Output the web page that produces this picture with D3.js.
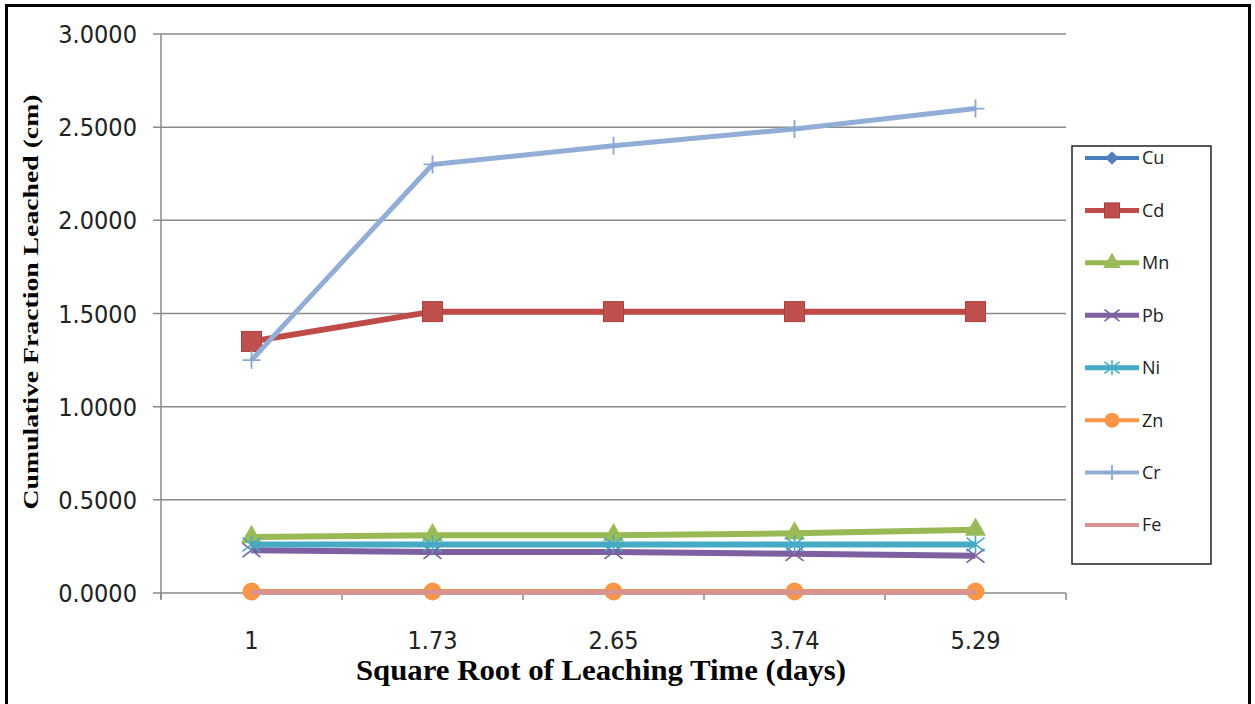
<!DOCTYPE html>
<html lang="en">
<head>
<meta charset="utf-8">
<title>Cumulative Fraction Leached</title>
<script src="https://d3js.org/d3.v7.min.js"></script>
<style>
  body { margin: 0; background: #fff; }
  .tick-label { font-family: "Liberation Sans Narrow", "DejaVu Sans Condensed", sans-serif; font-size: 25px; fill: #222; }
  .axis-title { font-family: "Liberation Serif", "DejaVu Serif", serif; font-weight: bold; fill: #000; }
  .legend-label { font-family: "Open Sans", "Liberation Sans", sans-serif; font-size: 18px; fill: #222; }
</style>
</head>
<body>
<script>
// data
var categories = ["1", "1.73", "2.65", "3.74", "5.29"];
var seriesNames = ["Cu", "Cd", "Mn", "Pb", "Ni", "Zn", "Cr", "Fe"];
var Cu = [0.005, 0.005, 0.005, 0.005, 0.005];
var Cd = [1.35, 1.51, 1.51, 1.51, 1.51];
var Mn = [0.30, 0.31, 0.31, 0.32, 0.34];
var Pb = [0.23, 0.22, 0.22, 0.21, 0.20];
var Ni = [0.26, 0.26, 0.26, 0.26, 0.26];
var Zn = [0.008, 0.008, 0.008, 0.008, 0.008];
var Cr = [1.25, 2.30, 2.40, 2.49, 2.60];
var Fe = [0.004, 0.004, 0.004, 0.004, 0.004];
var yTicks = [0, 0.5, 1, 1.5, 2, 2.5, 3];

var values = { Cu: Cu, Cd: Cd, Mn: Mn, Pb: Pb, Ni: Ni, Zn: Zn, Cr: Cr, Fe: Fe };
var colors = { Cu: "#4A7EBB", Cd: "#BE4B48", Mn: "#98B954", Pb: "#7D60A0",
               Ni: "#46AAC5", Zn: "#F79646", Cr: "#92ADD6", Fe: "#D9928F" };
var widths = { Cu: 5, Cd: 6, Mn: 6, Pb: 6, Ni: 6, Zn: 5, Cr: 5, Fe: 5 };

var width = 1255, height = 704;
var svg = d3.select("body").append("svg")
    .attr("width", width).attr("height", height);

// outer frame
svg.append("rect")
    .attr("x", 6.5).attr("y", 5.5).attr("width", 1243).attr("height", 720)
    .attr("fill", "none").attr("stroke", "#000").attr("stroke-width", 3);

var plotLeft = 161, plotRight = 1066, plotTop = 34, plotBottom = 593;
var x = d3.scaleBand().domain(categories).range([plotLeft, plotRight]).padding(0);
var y = d3.scaleLinear().domain([0, 3]).range([plotBottom, plotTop]);

// gridlines
svg.append("g").selectAll("line").data(yTicks).enter().append("line")
    .attr("x1", plotLeft - 8).attr("x2", plotRight)
    .attr("y1", function(d) { return y(d); }).attr("y2", function(d) { return y(d); })
    .attr("stroke", "#8a8a8a").attr("stroke-width", 1.5);

// y axis line
svg.append("line").attr("x1", plotLeft).attr("x2", plotLeft).attr("y1", plotTop).attr("y2", plotBottom + 6)
    .attr("stroke", "#8a8a8a").attr("stroke-width", 1.5);

// y tick labels
svg.append("g").selectAll("text").data(yTicks).enter().append("text")
    .attr("class", "tick-label")
    .attr("x", 137).attr("y", function(d) { return y(d); })
    .attr("dy", "0.36em").attr("text-anchor", "end")
    .text(function(d) { return d3.format(".4f")(d); });

// x ticks at band edges
var edges = categories.map(function(c) { return x(c); }).concat([plotRight]);
svg.append("g").selectAll("line").data(edges).enter().append("line")
    .attr("x1", function(d) { return d; }).attr("x2", function(d) { return d; })
    .attr("y1", plotBottom).attr("y2", plotBottom + 7)
    .attr("stroke", "#8a8a8a").attr("stroke-width", 1.5);

svg.append("g").selectAll("text").data(categories).enter().append("text")
    .attr("class", "tick-label")
    .attr("x", function(d) { return x(d) + x.bandwidth() / 2; })
    .attr("y", 649).attr("text-anchor", "middle")
    .text(function(d) { return d; });

// axis titles
svg.append("text").attr("class", "axis-title")
    .attr("x", 601).attr("y", 680).attr("text-anchor", "middle")
    .attr("font-size", 30)
    .attr("textLength", 490).attr("lengthAdjust", "spacingAndGlyphs")
    .text("Square Root of Leaching Time (days)");

svg.append("text").attr("class", "axis-title")
    .attr("transform", "translate(38,302) rotate(-90)")
    .attr("text-anchor", "middle").attr("font-size", 22)
    .attr("textLength", 415).attr("lengthAdjust", "spacingAndGlyphs")
    .text("Cumulative Fraction Leached (cm)");

// markers
function drawMarker(g, name, size) {
  var c = colors[name], s = size;
  if (name === "Cu") {
    var h = s * 0.45;
    g.append("path").attr("d", "M0," + (-h) + "L" + h + ",0L0," + h + "L" + (-h) + ",0Z").attr("fill", "#4F81BD");
  } else if (name === "Cd") {
    g.append("rect").attr("x", -s / 2).attr("y", -s / 2).attr("width", s).attr("height", s)
      .attr("fill", "#C0504D").attr("stroke", "#A8403D").attr("stroke-width", 1);
  } else if (name === "Mn") {
    g.append("path").attr("d", d3.symbol(d3.symbolTriangle, s * s * 0.6)()).attr("fill", "#9BBB59");
  } else if (name === "Pb") {
    g.append("path").attr("d", "M" + (-s / 2) + "," + (-s / 2.6) + "L" + (s / 2) + "," + (s / 2.6) +
      "M" + (-s / 2) + "," + (s / 2.6) + "L" + (s / 2) + "," + (-s / 2.6))
      .attr("stroke", c).attr("stroke-width", 1.6).attr("fill", "none");
  } else if (name === "Ni") {
    g.append("path").attr("d", "M" + (-s / 2) + "," + (-s / 2.6) + "L" + (s / 2) + "," + (s / 2.6) +
      "M" + (-s / 2) + "," + (s / 2.6) + "L" + (s / 2) + "," + (-s / 2.6) +
      "M0," + (-s / 2) + "L0," + (s / 2))
      .attr("stroke", c).attr("stroke-width", 1.6).attr("fill", "none");
  } else if (name === "Zn") {
    g.append("circle").attr("r", s / 2).attr("fill", c);
  } else if (name === "Cr") {
    g.append("path").attr("d", "M" + (-s / 2) + ",0L" + (s / 2) + ",0M0," + (-s / 2) + "L0," + (s / 2))
      .attr("stroke", "#8AA6D2").attr("stroke-width", 1.8).attr("fill", "none");
  }
}

var line = d3.line()
    .x(function(d, i) { return x(categories[i]) + x.bandwidth() / 2; })
    .y(function(d) { return y(d); });

var plot = svg.append("g");
seriesNames.forEach(function(name) {
  var g = plot.append("g");
  g.append("path").datum(values[name]).attr("d", line)
    .attr("fill", "none").attr("stroke", colors[name])
    .attr("stroke-width", widths[name]).attr("stroke-linejoin", "round");
  values[name].forEach(function(v, i) {
    var m = g.append("g").attr("transform", "translate(" + (x(categories[i]) + x.bandwidth() / 2) + "," + y(v) + ")");
    drawMarker(m, name, name === "Cd" ? 20 : 18);
  });
});

// legend
var legend = svg.append("g");
legend.append("rect").attr("x", 1072).attr("y", 146).attr("width", 139).attr("height", 418)
    .attr("fill", "#fff").attr("stroke", "#222").attr("stroke-width", 1.5);
var ly = d3.scalePoint().domain(seriesNames).range([158, 525]);
seriesNames.forEach(function(name) {
  var g = legend.append("g").attr("transform", "translate(0," + ly(name) + ")");
  g.append("line").attr("x1", 1085).attr("x2", 1139).attr("y1", 0).attr("y2", 0)
    .attr("stroke", colors[name]).attr("stroke-width", widths[name] - 1);
  var m = g.append("g").attr("transform", "translate(1112,0)");
  drawMarker(m, name, 15);
  g.append("text").attr("class", "legend-label").attr("x", 1142).attr("y", 0).attr("dy", "0.36em")
    .text(name);
});
</script>
</body>
</html>
